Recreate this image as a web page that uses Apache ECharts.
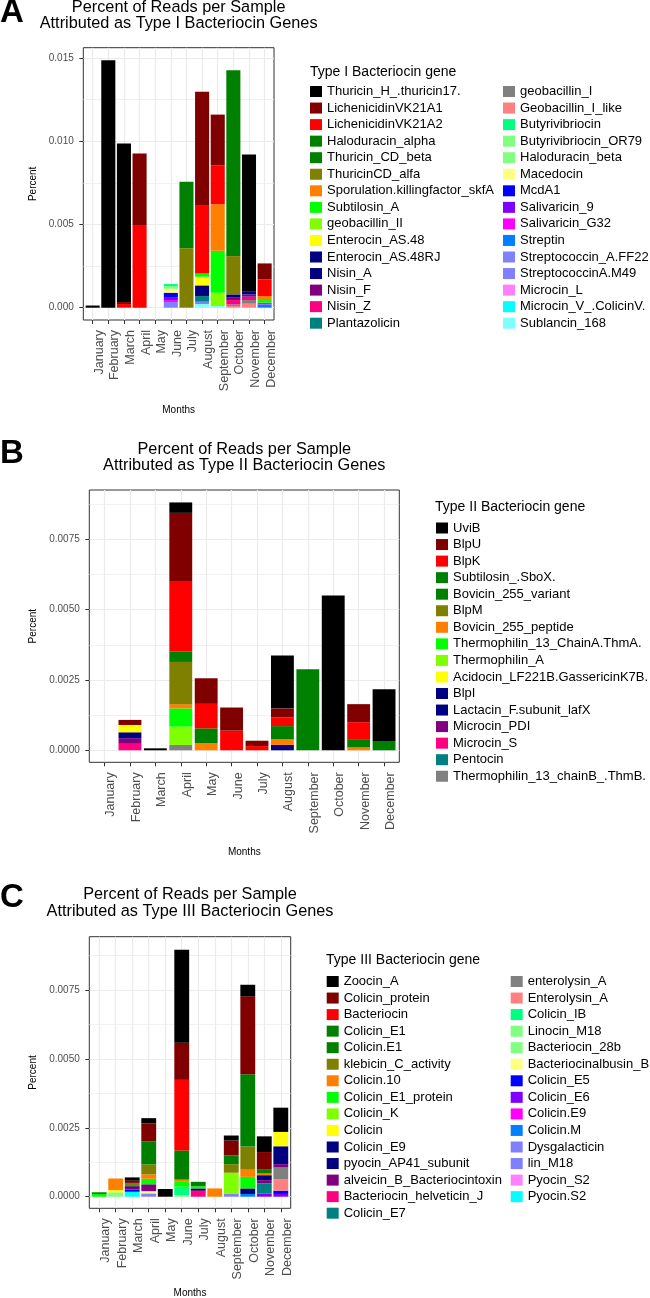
<!DOCTYPE html>
<html><head><meta charset="utf-8">
<script src="https://cdn.jsdelivr.net/npm/echarts@6/dist/echarts.min.js"></script>
<style>html,body{margin:0;padding:0;background:#fff}#c{width:650px;height:1298px}</style>
</head><body><div id="c"></div>
<script>
const months = ['January','February','March','April','May','June','July','August','September','October','November','December'];

// ---------- Panel A: Type I ----------
const genesA = ['Thuricin_H_.thuricin17.','LichenicidinVK21A1','LichenicidinVK21A2','Haloduracin_alpha','Thuricin_CD_beta','ThuricinCD_alfa','Sporulation.killingfactor_skfA','Subtilosin_A','geobacillin_II','Enterocin_AS.48','Enterocin_AS.48RJ','Nisin_A','Nisin_F','Nisin_Z','Plantazolicin','geobacillin_I','Geobacillin_I_like','Butyrivibriocin','Butyrivibriocin_OR79','Haloduracin_beta','Macedocin','McdA1','Salivaricin_9','Salivaricin_G32','Streptin','Streptococcin_A.FF22','StreptococcinA.M49','Microcin_L','Microcin_V_.ColicinV.','Sublancin_168'];
const colorsA = ['#000000','#800000','#FF0000','#008000','#008000','#808000','#FF8000','#00FF00','#80FF00','#FFFF00','#000080','#000080','#800080','#FF0080','#008080','#808080','#FF8080','#00FF80','#80FF80','#80FF80','#FFFF80','#0000FF','#8000FF','#FF00FF','#0080FF','#8080FF','#8080FF','#FF80FF','#00FFFF','#80FFFF'];
//                 Jan      Feb      Mar      Apr      May Jun      Jul      Aug      Sep      Oct      Nov      Dec
const valuesA = [
  [0.00013,0.01486,0.00953,0,      0,0,      0,      0,      0,      0,      0.00825,0],
  [0,      0,      0.00012,0.00434,0,0,      0,      0.00685,0.00304,0,      0,      0.00096],
  [0,      0,      0.00022,0.00493,0,0,      0,      0.00407,0.00234,0,      0,      0.00100],
  [0,      0,      0,      0,      0,0,      0,      0,      0,      0.01116,0,      0],
  [0,      0,      0,      0,      0,0,      0.00399,0,      0,      0,      0,      0],
  [0,      0,      0,      0,      0,0,      0.00357,0,      0,      0.00230,0,      0],
  [0,      0,      0,      0,      0,0,      0,      0,      0.00280,0,      0,      0.00024],
  [0,      0,      0,      0,      0,0,      0,      0.00020,0.00252,0,      0,      0.00016],
  [0,      0,      0,      0,      0,0,      0,      0,      0.00080,0,      0,      0],
  [0,      0,      0,      0,      0,0,      0,      0.00052,0,      0,      0,      0],
  [0,      0,      0,      0,      0,0,      0,      0,      0,      0.00020,0,      0],
  [0,      0,      0,      0,      0,0,      0,      0.00064,0,      0,      0.00016,0],
  [0,      0,      0,      0,      0,0,      0,      0,      0,      0.00014,0.00014,0],
  [0,      0,      0,      0,      0,0,      0,      0,      0,      0.00026,0.00020,0],
  [0,      0,      0,      0,      0,0,      0,      0.00034,0,      0,      0,      0],
  [0,      0,      0,      0,      0,0,      0,      0,      0,      0.00010,0.00022,0],
  [0,      0,      0,      0,      0,0,      0,      0,      0,      0.00010,0.00024,0],
  [0,      0,      0,      0,      0,0.00012,0,      0,      0,      0,      0,      0],
  [0,      0,      0,      0,      0,0.00016,0,      0,      0,      0,      0,      0],
  [0,      0,      0,      0,      0,0,      0,      0,      0,      0,      0,      0],
  [0,      0,      0,      0,      0,0.00024,0,      0,      0,      0,      0,      0],
  [0,      0,      0,      0,      0,0.00030,0,      0,      0,      0,      0,      0],
  [0,      0,      0,      0,      0,0.00014,0,      0,      0,      0,      0,      0],
  [0,      0,      0,      0,      0,0.00012,0,      0,      0,      0,      0,      0.00010],
  [0,      0,      0,      0,      0,0,      0,      0,      0,      0,      0,      0.00020],
  [0,      0,      0,      0,      0,0.00034,0,      0.00014,0,      0,      0,      0],
  [0,      0,      0,      0,      0,0,      0,      0,      0,      0,      0,      0],
  [0,      0,      0,      0,      0,0,      0,      0,      0,      0,      0,      0],
  [0,      0,      0,      0,      0,0,      0,      0,      0,      0,      0,      0],
  [0,      0,      0,      0,      0,0,      0,      0.00022,0.00010,0,      0,      0]
];
const yTicksA = [0, 0.005, 0.010, 0.015];
const yMinorA = [0.0025, 0.0075, 0.0125];

// ---------- Panel B: Type II ----------
const genesB = ['UviB','BlpU','BlpK','Subtilosin_.SboX.','Bovicin_255_variant','BlpM','Bovicin_255_peptide','Thermophilin_13_ChainA.ThmA.','Thermophilin_A','Acidocin_LF221B.GassericinK7B.','BlpI','Lactacin_F.subunit_lafX','Microcin_PDI','Microcin_S','Pentocin','Thermophilin_13_chainB_.ThmB.'];
const colorsB = ['#000000','#800000','#FF0000','#008000','#008000','#808000','#FF8000','#00FF00','#80FF00','#FFFF00','#000080','#000080','#800080','#FF0080','#008080','#808080'];
const valuesB = [
  [0,0,      0.00007,0.00037,0,      0,      0,      0.00188,0,      0.00550,0,      0.00184],
  [0,0.00018,0,      0.00242,0.00091,0.00082,0.00019,0.00032,0,      0,      0.00064,0],
  [0,0,      0,      0.00252,0.00087,0.00070,0.00015,0.00031,0,      0,      0.00063,0],
  [0,0,      0,      0.00036,0.00053,0,      0,      0.00047,0.00288,0,      0.00027,0.00033],
  [0,0,      0,      0,      0,      0,      0,      0,      0,      0,      0,      0],
  [0,0,      0,      0.00150,0,      0,      0,      0,      0,      0,      0,      0],
  [0,0,      0,      0.00015,0.00025,0,      0,      0.00020,0,      0,      0.00010,0],
  [0,0,      0,      0.00065,0,      0,      0,      0,      0,      0,      0,      0],
  [0,0,      0,      0.00065,0,      0,      0,      0,      0,      0,      0,      0],
  [0,0.00026,0,      0,      0,      0,      0,      0,      0,      0,      0,      0],
  [0,0.00021,0,      0,      0,      0,      0,      0.00019,0,      0,      0,      0],
  [0,0,      0,      0,      0,      0,      0,      0,      0,      0,      0,      0],
  [0,0.00020,0,      0,      0,      0,      0,      0,      0,      0,      0,      0],
  [0,0.00023,0,      0,      0,      0,      0,      0,      0,      0,      0,      0],
  [0,0,      0,      0,      0,      0,      0,      0,      0,      0,      0,      0],
  [0,0,      0,      0.00019,0,      0,      0,      0,      0,      0,      0,      0]
];
const yTicksB = [0, 0.0025, 0.0050, 0.0075];
const yMinorB = [0.00125, 0.00375, 0.00625, 0.00875];

// ---------- Panel C: Type III ----------
const genesC = ['Zoocin_A','Colicin_protein','Bacteriocin','Colicin_E1','Colicin.E1','klebicin_C_activity','Colicin.10','Colicin_E1_protein','Colicin_K','Colicin','Colicin_E9','pyocin_AP41_subunit','alveicin_B_Bacteriocintoxin','Bacteriocin_helveticin_J','Colicin_E7','enterolysin_A','Enterolysin_A','Colicin_IB','Linocin_M18','Bacteriocin_28b','Bacteriocinalbusin_B','Colicin_E5','Colicin_E6','Colicin.E9','Colicin.M','Dysgalacticin','lin_M18','Pyocin_S2','Pyocin.S2'];
const colorsC = ['#000000','#800000','#FF0000','#008000','#008000','#808000','#FF8000','#00FF00','#80FF00','#FFFF00','#000080','#000080','#800080','#FF0080','#008080','#808080','#FF8080','#00FF80','#80FF80','#80FF80','#FFFF80','#0000FF','#8000FF','#FF00FF','#0080FF','#8080FF','#8080FF','#FF80FF','#00FFFF'];
const valuesC = [
  [0,      0,      0.00012,0.00019,0.00028,0.00337,0,      0,      0.00018,0.00042,0.00057,0.00088],
  [0,      0,      0.00008,0.00065,0,      0.00135,0,      0,      0.00054,0.00283,0.00064,0],
  [0,      0,      0,      0,      0,      0.00256,0,      0,      0,      0,      0,      0],
  [0.00006,0,      0,      0.00084,0,      0.00106,0.00016,0,      0.00032,0.00262,0.00014,0],
  [0,      0,      0,      0,      0,      0,      0,      0,      0,      0,      0,      0],
  [0,      0,      0.00012,0.00036,0,      0,      0,      0,      0.00031,0.00084,0,      0],
  [0,      0.00042,0,      0.00016,0,      0.00008,0,      0.00030,0,      0.00026,0.00006,0],
  [0.00010,0,      0,      0.00020,0,      0.00018,0.00008,0,      0,      0.00042,0,      0],
  [0,      0,      0,      0,      0,      0,      0,      0,      0.00077,0,      0,      0],
  [0,      0.00008,0,      0,      0,      0,      0,      0,      0,      0,      0,      0.00052],
  [0,      0,      0.00006,0,      0,      0,      0.00006,0,      0,      0.00020,0.00018,0.00065],
  [0,      0,      0,      0,      0,      0,      0,      0,      0,      0,      0,      0],
  [0,      0,      0.00006,0.00025,0,      0,      0.00006,0,      0,      0,      0.00012,0.00012],
  [0,      0,      0,      0,      0,      0,      0.00018,0,      0,      0,      0,      0],
  [0,      0,      0,      0,      0,      0,      0,      0,      0,      0,      0.00036,0],
  [0,      0,      0,      0,      0,      0,      0,      0,      0,      0,      0,      0.00042],
  [0,      0,      0,      0,      0,      0,      0,      0,      0,      0,      0,      0.00042],
  [0,      0,      0,      0,      0,      0.00030,0,      0,      0,      0,      0,      0],
  [0,      0.00016,0,      0,      0,      0.00006,0,      0,      0,      0,      0,      0],
  [0,      0,      0,      0,      0,      0,      0,      0,      0,      0,      0,      0],
  [0,      0,      0,      0.00008,0,      0,      0,      0,      0,      0,      0,      0],
  [0,      0,      0.00008,0,      0,      0,      0,      0,      0,      0,      0,      0.00012],
  [0,      0,      0,      0,      0,      0,      0,      0,      0,      0,      0.00012,0.00010],
  [0,      0,      0,      0,      0,      0,      0,      0,      0,      0,      0,      0],
  [0,      0,      0,      0,      0,      0,      0,      0,      0,      0.00010,0,      0],
  [0,      0,      0,      0.00012,0,      0,      0,      0,      0.00010,0,      0,      0],
  [0,      0,      0,      0,      0,      0,      0,      0,      0,      0,      0,      0],
  [0,      0,      0,      0,      0,      0,      0,      0,      0,      0,      0,      0],
  [0,      0,      0.00018,0,      0,      0,      0,      0,      0,      0,      0,      0]
];
const yTicksC = [0, 0.0025, 0.0050, 0.0075];
const yMinorC = [0.00125, 0.00375, 0.00625, 0.00875];

const titlesText = [
  ['Percent of Reads per Sample','Attributed as Type I Bacteriocin Genes'],
  ['Percent of Reads per Sample','Attributed as Type II Bacteriocin Genes'],
  ['Percent of Reads per Sample','Attributed as Type III Bacteriocin Genes']
];
const letters = ['A','B','C'];
const legendTitles = ['Type I Bacteriocin gene','Type II Bacteriocin gene','Type III Bacteriocin gene'];

// ---------- layout (positions / styles only) ----------
const FONT = '"Liberation Sans", Arial, sans-serif';
const layout = [
  {L:83.3, R:274,   T:47.7,  B:320,    ymin:-0.000739, ymax:0.015619, dec:3,
   t1:8, t2:24, letterY:13, monthsY:410, legTitle:[310,72], legCols:[[310,85],[503,85]], perCol:15},
  {L:89.3, R:399.3, T:490,   B:762.3,  ymin:-0.000427, ymax:0.009252, dec:4,
   t1:449.5, t2:466, letterY:454, monthsY:852.7, legTitle:[435,507], legCols:[[436,521.5]], perCol:16},
  {L:89.3, R:290.7, T:936.7, B:1208.3, ymin:-0.000421, ymax:0.009434, dec:4,
   t1:895, t2:912, letterY:898, monthsY:1293.3, legTitle:[326,960], legCols:[[326.7,975],[510.7,975]], perCol:15}
];
const panelData = [
  {genes:genesA, colors:colorsA, values:valuesA, ticks:yTicksA, minor:yMinorA},
  {genes:genesB, colors:colorsB, values:valuesB, ticks:yTicksB, minor:yMinorB},
  {genes:genesC, colors:colorsC, values:valuesC, ticks:yTicksC, minor:yMinorC}
];

const xPos = months.map((m,i)=>i+1);
const option = {animation:false, backgroundColor:'#fff', textStyle:{fontFamily:FONT},
  grid:[], xAxis:[], yAxis:[], series:[], legend:[], graphic:[]};

function txt(text, x, y, size, opts) {
  opts = opts || {};
  return {type:'text', x:x, y:y, rotation:opts.rot||0, silent:true,
    style:{text:text, fill:opts.color||'#000', font:(opts.bold?'bold ':'')+size+'px '+FONT,
      align:opts.align||'center', verticalAlign:'middle', textAlign:opts.align||'center', textVerticalAlign:'middle'}};
}

layout.forEach((P,p)=>{
  const D = panelData[p];
  const unit = (P.R-P.L)/12.2;
  const gO = 2*p, gM = 2*p+1;
  option.grid.push({left:P.L, top:P.T, width:P.R-P.L, height:P.B-P.T, show:true, borderColor:'#333333', borderWidth:1,
    backgroundColor:'transparent', containLabel:false, outerBoundsMode:'none'});
  option.grid.push({left:P.L+0.1*unit, top:P.T, width:12*unit, height:P.B-P.T, show:false, containLabel:false, outerBoundsMode:'none'});
  // overlay x axis (ticks, labels, vertical grid lines)
  option.xAxis.push({type:'value', gridIndex:gO, min:0.4, max:12.6,
    axisLine:{show:false, onZero:false},
    axisTick:{show:true, length:4, lineStyle:{color:'#333333', width:1}, customValues:xPos},
    axisLabel:{customValues:xPos, formatter:v=>months[Math.round(v)-1], rotate:90, verticalAlign:'top',
      fontSize:12.5, color:'#4d4d4d', margin:10, fontFamily:FONT, hideOverlap:false},
    splitLine:{show:true, customValues:xPos, lineStyle:{color:'#ebebeb', width:1.2}}});
  option.xAxis.push({type:'category', gridIndex:gM, data:months, show:false, boundaryGap:true});
  // overlay y major
  option.yAxis.push({type:'value', gridIndex:gO, min:P.ymin, max:P.ymax,
    axisLine:{show:false, onZero:false},
    axisTick:{show:true, length:4, lineStyle:{color:'#333333', width:1}, customValues:D.ticks},
    axisLabel:{customValues:D.ticks, formatter:v=>Number(v).toFixed(P.dec), fontSize:10, color:'#4d4d4d', margin:9.5, fontFamily:FONT},
    splitLine:{show:true, customValues:D.ticks, lineStyle:{color:'#ebebeb', width:1.2}}});
  // overlay y minor
  option.yAxis.push({type:'value', gridIndex:gO, position:'right', min:P.ymin, max:P.ymax,
    axisLine:{show:false, onZero:false},
    axisTick:{show:false, customValues:D.minor},
    axisLabel:{show:false, customValues:D.minor},
    splitLine:{show:true, customValues:D.minor, lineStyle:{color:'#ebebeb', width:0.7}}});
  // bar y axis
  option.yAxis.push({type:'value', gridIndex:gM, min:P.ymin, max:P.ymax, show:false,
    splitLine:{show:false}, axisLine:{show:false}});
  const xi = 2*p+1, yi = 3*p+2;
  for (let g = D.genes.length-1; g >= 0; g--) {
    option.series.push({type:'bar', name:D.genes[g], xAxisIndex:xi, yAxisIndex:yi, stack:'s'+p,
      barWidth:'90%', data:D.values[g], itemStyle:{color:D.colors[g]}, silent:true});
  }
  // legends
  P.legCols.forEach((c,ci)=>{
    option.legend.push({orient:'vertical', left:c[0], top:c[1], padding:0, itemWidth:12, itemHeight:11, itemGap:3.55,
      icon:'rect', selectedMode:false, textStyle:{fontSize:13, color:'#000', fontFamily:FONT, lineHeight:11},
      data:D.genes.slice(ci*P.perCol, (ci+1)*P.perCol)});
  });
  const cx = (P.L+P.R)/2;
  option.graphic.push(txt(titlesText[p][0], cx, P.t1, 16.3));
  option.graphic.push(txt(titlesText[p][1], cx, P.t2, 16.3));
  option.graphic.push(txt(letters[p], 0, P.letterY, 33, {bold:true, align:'left'}));
  option.graphic.push(txt('Months', cx, P.monthsY, 10));
  option.graphic.push(txt('Percent', 33.3, (P.T+P.B)/2, 10, {rot:Math.PI/2}));
  option.graphic.push(txt(legendTitles[p], P.legTitle[0], P.legTitle[1], 14, {align:'left'}));
});

const chart = echarts.init(document.getElementById('c'), null, {renderer:'canvas'});
chart.setOption(option);
</script>
</body></html>
